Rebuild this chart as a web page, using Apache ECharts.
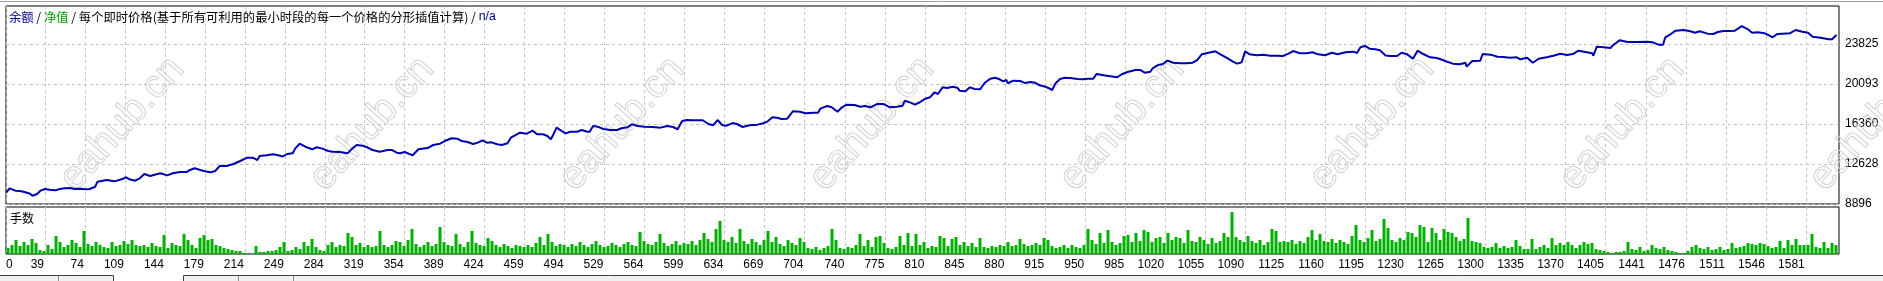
<!DOCTYPE html>
<html><head><meta charset="utf-8">
<script src="https://cdn.jsdelivr.net/npm/echarts@6/dist/echarts.min.js"></script>
<style>html,body{margin:0;padding:0;background:#fff;overflow:hidden}#c{width:1883px;height:281px}</style>
</head><body><div id="c"></div>
<script>
// ---- data ----
const TITLE_BALANCE = '余额';
const TITLE_EQUITY = '净值';
const TITLE_MODEL = '每个即时价格(基于所有可利用的最小时段的每一个价格的分形插值计算)';
const TITLE_NA = 'n/a';
const VOLUME_LABEL = '手数';
const WATERMARK = 'eahub.cn';

const X_TICK_LABELS = [0,39,74,109,144,179,214,249,284,319,354,389,424,459,494,529,564,599,634,669,704,740,775,810,845,880,915,950,985,1020,1055,1090,1125,1160,1195,1230,1265,1300,1335,1370,1405,1441,1476,1511,1546,1581];
const Y_TICK_LABELS = [8896,12628,16360,20093,23825];

// balance curve: [trade index, balance]
const BALANCE = [[5,9950],[8,10360],[13,10140],[17,10110],[21,10020],[26,9860],[28,9670],[32,9830],[35,10140],[39,10300],[43,10230],[48,10170],[52,10300],[56,10360],[61,10390],[65,10300],[70,10320],[74,10270],[78,10300],[83,10510],[85,10980],[93,11140],[100,11010],[106,11200],[110,11390],[113,11200],[118,11070],[122,11290],[126,11700],[131,11510],[135,11630],[140,11760],[146,11570],[151,11760],[157,11880],[163,11880],[166,12070],[170,12230],[175,12070],[179,11950],[184,11850],[188,11980],[192,12440],[198,12440],[204,12630],[210,12910],[216,13220],[221,13220],[225,13000],[227,13370],[233,13440],[239,13530],[245,13400],[247,13310],[251,13560],[256,13630],[258,14060],[262,14520],[267,14240],[273,14000],[277,14190],[282,14060],[287,13840],[291,13780],[297,13750],[304,13630],[308,14060],[312,14400],[317,14340],[321,14190],[326,13930],[332,13780],[339,13930],[343,13930],[347,13680],[350,13630],[354,13750],[361,13440],[366,14000],[374,14120],[379,14400],[385,14520],[389,14770],[395,15030],[400,14990],[404,14770],[409,14680],[414,14490],[418,14620],[422,14840],[426,14620],[430,14650],[435,14470],[439,14400],[444,14560],[445,14430],[447,15080],[451,15330],[455,15550],[461,15460],[466,15740],[470,15400],[475,15400],[479,15240],[482,14930],[484,15330],[487,16020],[492,15680],[495,15490],[499,15640],[505,15640],[509,15800],[514,15640],[516,15640],[519,16170],[523,16110],[528,15890],[534,15800],[540,15800],[544,15960],[549,16050],[553,16330],[558,16170],[564,16110],[571,16080],[578,16020],[584,16170],[589,16080],[593,15870],[597,16640],[601,16730],[606,16710],[615,16710],[620,16360],[624,16240],[628,16730],[632,16270],[636,16200],[641,16450],[645,16360],[650,16080],[656,16240],[663,16300],[668,16430],[672,16610],[676,16990],[680,16950],[684,16830],[689,16860],[694,17550],[700,17510],[705,17360],[712,17410],[716,17410],[718,17790],[724,18040],[728,17920],[733,17510],[737,17920],[741,18160],[748,18130],[753,17970],[757,18040],[762,17920],[768,18230],[773,18230],[779,17920],[785,17970],[790,18070],[792,18530],[797,18350],[801,18160],[805,18390],[810,18720],[814,18850],[818,19320],[821,19160],[825,19780],[829,19720],[834,19840],[838,19750],[840,19470],[845,19410],[849,19780],[853,19630],[858,19600],[862,20210],[867,20590],[871,20680],[875,20530],[878,20340],[881,20470],[882,20160],[887,20400],[893,20370],[897,20190],[902,20280],[906,20210],[910,19970],[915,19840],[919,19650],[921,19530],[924,20160],[928,20560],[932,20680],[937,20650],[943,20560],[948,20530],[952,20590],[957,20590],[960,21030],[966,20900],[972,20810],[978,20720],[982,21000],[987,21210],[994,21400],[998,21400],[1002,21150],[1007,21240],[1009,21560],[1014,21870],[1018,21960],[1022,22270],[1027,22080],[1033,22020],[1039,22020],[1044,22080],[1048,22330],[1052,22860],[1058,23010],[1064,23140],[1068,22890],[1074,22520],[1079,22210],[1083,21990],[1087,22120],[1090,23140],[1094,22860],[1100,22770],[1106,22830],[1112,22730],[1118,22730],[1123,22710],[1128,22920],[1132,23170],[1138,22960],[1144,22960],[1149,23050],[1154,22860],[1160,22770],[1166,23010],[1171,22860],[1178,23050],[1185,23110],[1188,22990],[1191,23520],[1195,23640],[1199,23390],[1204,23330],[1208,23240],[1213,22750],[1217,22710],[1223,22710],[1227,23010],[1232,22860],[1237,22450],[1241,23200],[1246,22890],[1252,22580],[1258,22520],[1263,22330],[1267,22170],[1272,21990],[1278,21930],[1283,22080],[1284,21710],[1289,22240],[1296,22270],[1298,22890],[1305,22830],[1311,22640],[1316,22610],[1322,22550],[1328,22580],[1331,22400],[1337,22550],[1342,22080],[1347,22450],[1354,22580],[1360,22730],[1366,22920],[1372,22800],[1377,22890],[1382,23200],[1388,23080],[1394,22960],[1395,22730],[1398,23570],[1404,23520],[1410,23450],[1412,23700],[1418,24170],[1425,24010],[1433,24010],[1442,24040],[1447,23980],[1452,23760],[1456,23760],[1458,24450],[1462,24690],[1467,25070],[1474,25130],[1480,25010],[1484,24880],[1488,25010],[1495,24790],[1500,24760],[1504,24940],[1509,25040],[1515,25040],[1519,25070],[1522,25290],[1525,25500],[1530,25220],[1534,24880],[1539,24920],[1545,24820],[1550,24570],[1552,24450],[1556,24760],[1561,24790],[1567,24820],[1572,25130],[1578,24970],[1583,24880],[1587,24510],[1594,24410],[1601,24260],[1604,24260],[1607,24570],[1608,24660]];

// lots per trade (sampled, one bar every ~3.5 trades)
const VOLUME = [
6,9,14,8,12,9,15,11,4,3, 9,5,18,12,7,9,14,11,7,23, 10,8,12,9,7,6,12,8,9,13, 10,14,9,8,9,7,11,8,7,19,
6,11,9,8,20,14,9,6,16,19, 14,15,9,8,6,5,4,3,3,1, 1,0,8,2,2,3,3,4,7,12, 3,4,7,5,12,8,15,7,4,3,
9,12,7,9,8,21,17,9,11,7, 9,7,8,23,9,7,9,13,12,8, 14,25,10,7,9,12,8,10,27,12, 9,8,20,10,7,12,23,11,9,8,
16,13,9,7,10,8,6,9,8,7, 9,7,11,17,9,20,12,8,10,9, 7,10,8,12,9,7,10,13,9,7, 8,11,9,7,10,12,9,8,22,13,
10,9,12,20,11,8,10,13,9,11, 10,13,9,14,21,15,12,25,33,14, 12,17,11,25,13,10,15,12,9,14, 23,12,17,10,8,14,11,9,16,12,
6,5,7,4,6,8,25,14,6,5, 7,6,9,20,8,14,7,17,18,11, 6,5,7,18,9,21,8,20,9,12, 6,8,7,18,16,8,15,17,9,12,
8,11,7,16,7,6,8,7,9,8, 12,8,9,15,10,8,9,11,9,16, 14,8,6,7,9,6,9,7,6,9, 25,14,10,21,11,24,12,9,11,18,
19,12,21,13,24,22,12,16,17,11, 21,14,17,16,11,24,13,12,17,14, 10,16,11,13,21,17,42,17,14,12, 18,13,11,14,9,12,25,23,12,13,
12,14,10,13,11,17,24,14,20,13, 12,15,11,14,12,10,18,29,14,12, 16,24,13,15,35,26,14,12,16,14, 22,21,17,29,27,12,26,21,14,25,
22,21,17,13,15,36,13,12,11,7, 6,7,11,6,8,6,7,14,8,5, 5,15,5,7,9,6,16,9,11,9, 12,9,6,9,12,10,11,5,4,3,
2,1,2,2,3,12,5,4,7,3, 4,9,6,5,7,4,3,2,1,1, 3,7,9,6,5,7,4,5,7,4, 5,11,6,7,8,11,10,9,11,10,
8,6,7,13,6,14,9,15,9,9, 9,20,7,6,12,6,11,9];

// ---- scales ----
const X_MIN = 4.84, X_MAX = 1610.1;
const Y_MIN = 8896, Y_MAX = 27370;
const VOL_MAX = 47;
const VOL_X0 = 6.6, VOL_STEP = 3.503;

const FONT = "'Liberation Sans', Arial, sans-serif";
const CJK = "'Noto Sans CJK SC', sans-serif";
const xTickPos = X_TICK_LABELS.map((v, i) => i === 0 ? X_MIN : v);
const xFmt = v => (Math.abs(v - X_MIN) < 1e-6 ? String(X_TICK_LABELS[0]) : String(v));
const grid = {color: '#c4c4c4', type: [3, 3], width: 1};

const chart = echarts.init(document.getElementById('c'), null, {renderer: 'canvas'});

const watermarks = [];
for (let k = 0; k < 8; k++) {
  watermarks.push({
    type: 'text', x: 122 + 250 * k, y: 124, rotation: 48 * Math.PI / 180, z: 1, silent: true,
    style: {text: WATERMARK, font: "40px 'Liberation Sans', Arial", fill: 'rgba(0,0,0,0)', stroke: '#d2d2d2', lineWidth: 1, align: 'center', verticalAlign: 'middle'}
  });
}

const frame = [
  {type: 'line', z: 10, shape: {x1: 0, y1: 1.5, x2: 1883, y2: 1.5}, style: {stroke: '#a0a0a0', lineWidth: 1}},
  {type: 'rect', z: 10, shape: {x: 0, y: 276, width: 1883, height: 5}, style: {fill: '#f0f0f0'}},
  {type: 'rect', z: 10, shape: {x: 113, y: 276, width: 70, height: 5}, style: {fill: '#ffffff'}},
  {type: 'polyline', z: 11, shape: {points: [[0, 275.5], [113.5, 275.5], [113.5, 281]]}, style: {stroke: '#404040', lineWidth: 1, fill: null}},
  {type: 'polyline', z: 11, shape: {points: [[183.5, 281], [183.5, 275.5], [1883, 275.5]]}, style: {stroke: '#404040', lineWidth: 1, fill: null}}
];
[58.5, 238.5, 293.5].forEach(x => frame.push({type: 'line', z: 11, shape: {x1: x, y1: 276, x2: x, y2: 281}, style: {stroke: '#909090', lineWidth: 1}}));

chart.setOption({
  animation: false,
  backgroundColor: '#fff',
  grid: [
    {left: 6, right: 44, top: 6, height: 198, show: true, borderColor: '#000', borderWidth: 1, backgroundColor: 'transparent'},
    {left: 6, right: 44, top: 207, height: 47, show: true, borderColor: '#000', borderWidth: 1, backgroundColor: 'transparent'}
  ],
  xAxis: [
    {gridIndex: 0, type: 'value', min: X_MIN, max: X_MAX, axisLine: {show: false},
     axisTick: {show: false, customValues: xTickPos}, axisLabel: {show: false, customValues: xTickPos},
     splitLine: {show: true, lineStyle: grid}},
    {gridIndex: 1, type: 'value', min: X_MIN, max: X_MAX, axisLine: {show: false},
     axisTick: {show: false, customValues: xTickPos},
     axisLabel: {show: true, customValues: xTickPos, formatter: xFmt, align: 'right', alignMinLabel: 'left',
                 margin: 5, color: '#000', fontSize: 12, fontFamily: FONT, padding: [0, 1, 0, 0]},
     splitLine: {show: true, lineStyle: grid}}
  ],
  yAxis: [
    {gridIndex: 0, type: 'value', position: 'right', min: Y_MIN, max: Y_MAX, axisLine: {show: false},
     axisTick: {show: false, customValues: Y_TICK_LABELS},
     axisLabel: {show: true, customValues: Y_TICK_LABELS, formatter: v => String(v), margin: 6, color: '#000', fontSize: 12, fontFamily: FONT, padding: [3, 0, 0, 0]},
     splitLine: {show: true, lineStyle: grid}},
    {gridIndex: 1, type: 'value', min: 0, max: VOL_MAX, axisLine: {show: false}, axisTick: {show: false},
     axisLabel: {show: false}, splitLine: {show: false}}
  ],
  series: [
    {type: 'bar', xAxisIndex: 1, yAxisIndex: 1, barWidth: 3, large: false,
     itemStyle: {color: '#00b000'}, data: VOLUME.map((v, i) => [VOL_X0 + i * VOL_STEP, v])},
    {type: 'line', xAxisIndex: 0, yAxisIndex: 0, showSymbol: false, z: 5,
     lineStyle: {color: '#0000b4', width: 2}, data: BALANCE}
  ],
  graphic: [
    ...watermarks,
    {type: 'text', x: 9, y: 17, z: 10, style: {
      text: '{b|' + TITLE_BALANCE + '} / {g|' + TITLE_EQUITY + '} / ' + TITLE_MODEL + ' / {n|' + TITLE_NA + '}',
      font: '12.3px ' + CJK, fill: '#000', verticalAlign: 'middle',
      rich: {b: {fill: '#0000a0', font: '12.3px ' + CJK}, g: {fill: '#00a000', font: '12.3px ' + CJK}, n: {fill: '#000080', font: '12.3px ' + FONT}}
    }},
    {type: 'text', x: 10, y: 218, z: 10, style: {text: VOLUME_LABEL, font: '12px ' + CJK, fill: '#000', verticalAlign: 'middle'}},
    ...frame
  ]
});
</script></body></html>
